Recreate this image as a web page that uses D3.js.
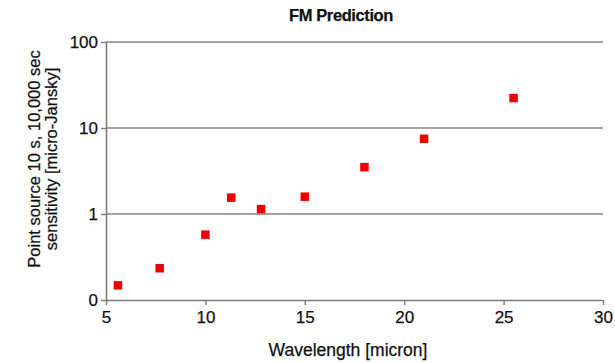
<!DOCTYPE html>
<html>
<head>
<meta charset="utf-8">
<script src="https://cdn.jsdelivr.net/npm/d3@7"></script>
<style>
    body { margin: 0; background: #fff; }
    text { font-family: "Liberation Sans", Arial, sans-serif; fill: #111; stroke: #111; stroke-width: 0.25px; }
</style>
</head>
<body>
<script>
// MIRI filter wavelengths and predicted sensitivity
const wavelengths = [5.6, 7.7, 10.0, 11.3, 12.8, 15.0, 18.0, 21.0, 25.5];
const sensitivity = [0.148, 0.234, 0.575, 1.55, 1.14, 1.59, 3.51, 7.49, 22.3];
const xTicks = [5, 10, 15, 20, 25, 30];
const yTicks = [0.1, 1, 10, 100];

const width = 615;
const height = 363;
const plotLeft = 106;
const plotRight = 603;
const plotTop = 42;
const plotBottom = 300;

const svg = d3.select("body")
    .append("svg")
    .attr("width", width)
    .attr("height", height);

const xScale = d3.scaleLinear()
    .domain([5, 30])
    .range([plotLeft, plotRight]);

const yScale = d3.scaleLog()
    .domain([0.1, 100])
    .range([plotBottom, plotTop]);

// gridlines (Excel style, one per decade)
svg.selectAll(".grid")
    .data(yTicks.slice(1))
    .enter()
    .append("line")
    .attr("class", "grid")
    .attr("x1", plotLeft)
    .attr("x2", plotRight)
    .attr("y1", d => yScale(d))
    .attr("y2", d => yScale(d))
    .attr("stroke", "#858585")
    .attr("stroke-width", 1.6);

const xAxis = d3.axisBottom(xScale)
    .tickValues(xTicks)
    .tickSize(5)
    .tickSizeOuter(0)
    .tickPadding(6);

const yAxis = d3.axisLeft(yScale)
    .tickValues(yTicks)
    .tickSize(5)
    .tickSizeOuter(0)
    .tickPadding(3)
    .tickFormat(d => d < 1 ? "0" : d3.format("d")(d));

const gx = svg.append("g")
    .attr("transform", "translate(0," + plotBottom + ")")
    .call(xAxis);

const gy = svg.append("g")
    .attr("transform", "translate(" + plotLeft + ",0)")
    .call(yAxis);

[gx, gy].forEach(g => {
    g.select(".domain").attr("stroke", "#7a7a7a").attr("stroke-width", 1.6);
    g.selectAll(".tick line").attr("stroke", "#7a7a7a").attr("stroke-width", 1.4);
    g.selectAll(".tick text")
        .attr("fill", "#111")
        .style("font-size", "17px")
        .style("font-family", "'Liberation Sans', Arial, sans-serif");
});

// markers
const size = 8.5;
svg.selectAll(".pt")
    .data(wavelengths)
    .enter()
    .append("rect")
    .attr("class", "pt")
    .attr("x", (d, i) => xScale(d) - size / 2)
    .attr("y", (d, i) => yScale(sensitivity[i]) - size / 2)
    .attr("width", size)
    .attr("height", size)
    .attr("fill", "#ee0000");

svg.append("text")
    .attr("x", 341)
    .attr("y", 21)
    .attr("text-anchor", "middle")
    .style("font-size", "16.5px")
    .style("font-weight", "bold")
    .style("letter-spacing", "-0.4px")
    .text("FM Prediction");

svg.append("text")
    .attr("x", 348)
    .attr("y", 356)
    .attr("text-anchor", "middle")
    .style("font-size", "17.5px")
    .text("Wavelength [micron]");

const yTitle = svg.append("text")
    .attr("transform", "translate(0,159) rotate(-90)")
    .attr("text-anchor", "middle")
    .style("font-size", "16.5px");

yTitle.append("tspan")
    .attr("x", 0)
    .attr("y", 40)
    .text("Point source 10 s, 10,000 sec");

yTitle.append("tspan")
    .attr("x", 0)
    .attr("y", 57)
    .text("sensitivity [micro-Jansky]");
</script>
</body>
</html>
